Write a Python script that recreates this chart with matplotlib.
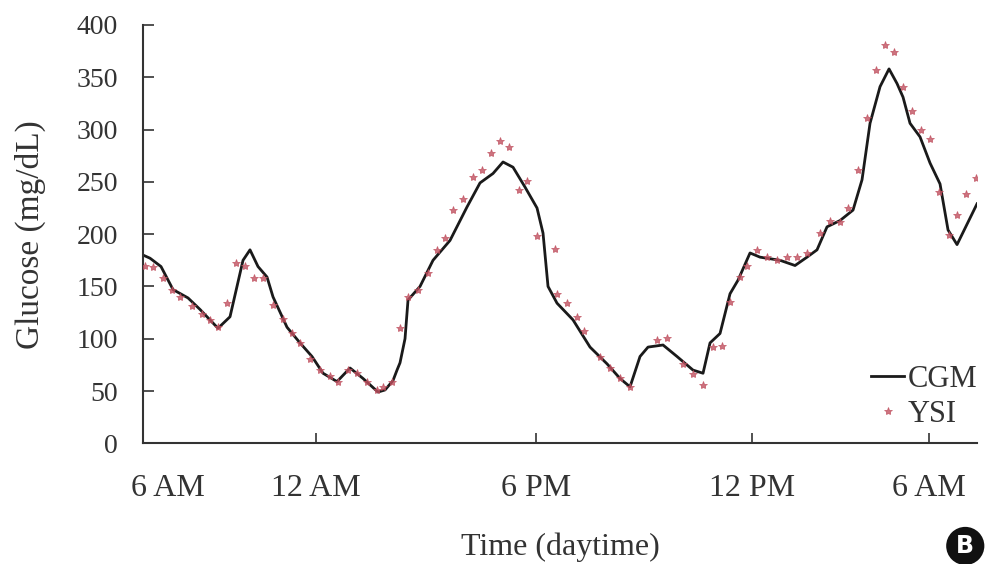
import numpy as np
import matplotlib
matplotlib.use("Agg")
import matplotlib.pyplot as plt

# GLUCOSE TRACE (x is position along the time axis, arbitrary units)

cgm_t = [0, 7, 18, 30, 45, 57, 75, 87, 100, 107, 115, 124, 130, 144, 157, 169,
         180, 194, 207, 220, 235, 242, 250, 254, 257, 262, 265, 277, 290, 307,
         324, 337, 350, 360, 370, 382, 394, 400, 405, 414, 430, 447, 464, 477,
         487, 497, 505, 520, 534, 550, 560, 567, 577, 587, 595, 607, 617, 637,
         652, 664, 674, 684, 697, 710, 719, 727, 737, 746, 754, 760, 767, 777,
         787, 797, 805, 814, 834]
cgm_val = [180, 177, 169, 147, 139, 128, 110, 121, 175, 185, 169, 159, 140,
           111, 96, 83, 67, 59, 72, 62, 49, 51, 60, 70, 77, 100, 137, 150, 175,
           194, 226, 249, 258, 269, 264, 245, 225, 201, 150, 134, 118, 92, 76,
           62, 54, 83, 92, 94, 83, 70, 67, 96, 105, 143, 156, 182, 178, 175,
           170, 178, 185, 207, 213, 223, 252, 306, 341, 358, 344, 331, 306, 293,
           268, 248, 204, 190, 229]

ysi_t = [2, 10, 20, 29, 37, 49, 59, 67, 75, 84, 93, 102, 111, 120, 130, 140,
         149, 157, 167, 177, 187, 195, 205, 214, 224, 234, 240, 249, 257, 265,
         275, 285, 294, 302, 310, 320, 330, 339, 348, 357, 366, 376, 384, 394,
         412, 414, 424, 434, 441, 457, 467, 477, 487, 514, 524, 540, 550, 560,
         570, 579, 587, 597, 604, 614, 624, 634, 644, 654, 664, 677, 687, 697,
         705, 715, 724, 733, 742, 751, 760, 769, 778, 787, 796, 806, 814, 823,
         833]
ysi_val = [170, 169, 158, 147, 140, 131, 124, 118, 111, 134, 172, 170, 158,
           158, 132, 119, 105, 96, 81, 70, 64, 59, 70, 67, 59, 51, 54, 59, 110,
           140, 147, 163, 185, 196, 223, 234, 255, 261, 278, 289, 283, 242, 251,
           198, 186, 143, 134, 121, 107, 83, 72, 62, 54, 99, 101, 76, 66, 56,
           92, 93, 135, 159, 170, 185, 178, 175, 178, 178, 182, 201, 213, 212,
           225, 261, 311, 357, 381, 374, 341, 318, 300, 291, 240, 199, 218, 238,
           254]

tick_pos = [25, 173, 393, 609, 786]
tick_labels = ["6 AM", "12 AM", "6 PM", "12 PM", "6 AM"]

plt.rcParams['font.family'] = ['Liberation Serif', 'DejaVu Serif']

fig = plt.figure(figsize=(9.89, 5.64), dpi=100)
ax = fig.add_axes([0.1446, 0.214, 0.8433, 0.7417])

ax.plot(cgm_t, cgm_val, color='#1a1a1a', lw=2.0, label='CGM', zorder=2)
ax.plot(ysi_t, ysi_val, ls='none', marker='*', ms=6, color='#c0505f',
        markeredgewidth=0.6, alpha=0.8, label='YSI', zorder=3)

ax.set_xlim(0, 834)
ax.set_ylim(0, 400)
ax.set_yticks(np.arange(0, 401, 50))
ax.set_xticks(tick_pos)
ax.set_xticklabels(tick_labels)

for s in ['top', 'right']:
    ax.spines[s].set_visible(False)
for s in ['left', 'bottom']:
    ax.spines[s].set_linewidth(1.5)
    ax.spines[s].set_color('#333333')

ax.tick_params(axis='y', direction='in', length=8, width=1.2, color='#333333',
               labelsize=20, pad=18, labelcolor='#333333')
ax.tick_params(axis='x', direction='in', length=7, width=1.2, color='#333333',
               labelsize=23, pad=22, labelcolor='#333333')
# first label has no tick mark
ax.xaxis.get_major_ticks()[0].tick1line.set_visible(False)

ax.set_ylabel('Glucose (mg/dL)', fontsize=24, color='#333333', labelpad=22)
ax.set_xlabel('Time (daytime)', fontsize=23, color='#333333', labelpad=21)

leg = ax.legend(loc='lower right', bbox_to_anchor=(1.022, -0.01), frameon=False,
                fontsize=22, handlelength=1.1, handletextpad=0.1,
                labelspacing=0.2, borderpad=0.1)
for t in leg.get_texts():
    t.set_color('#333333')

fig.text(0.976, 0.032, 'B', fontsize=17, fontweight='bold', color='white',
         family='DejaVu Sans', ha='center', va='center',
         bbox=dict(boxstyle='circle,pad=0.3', fc='#111111', ec='none'))

fig.savefig('out.png', dpi=100)
